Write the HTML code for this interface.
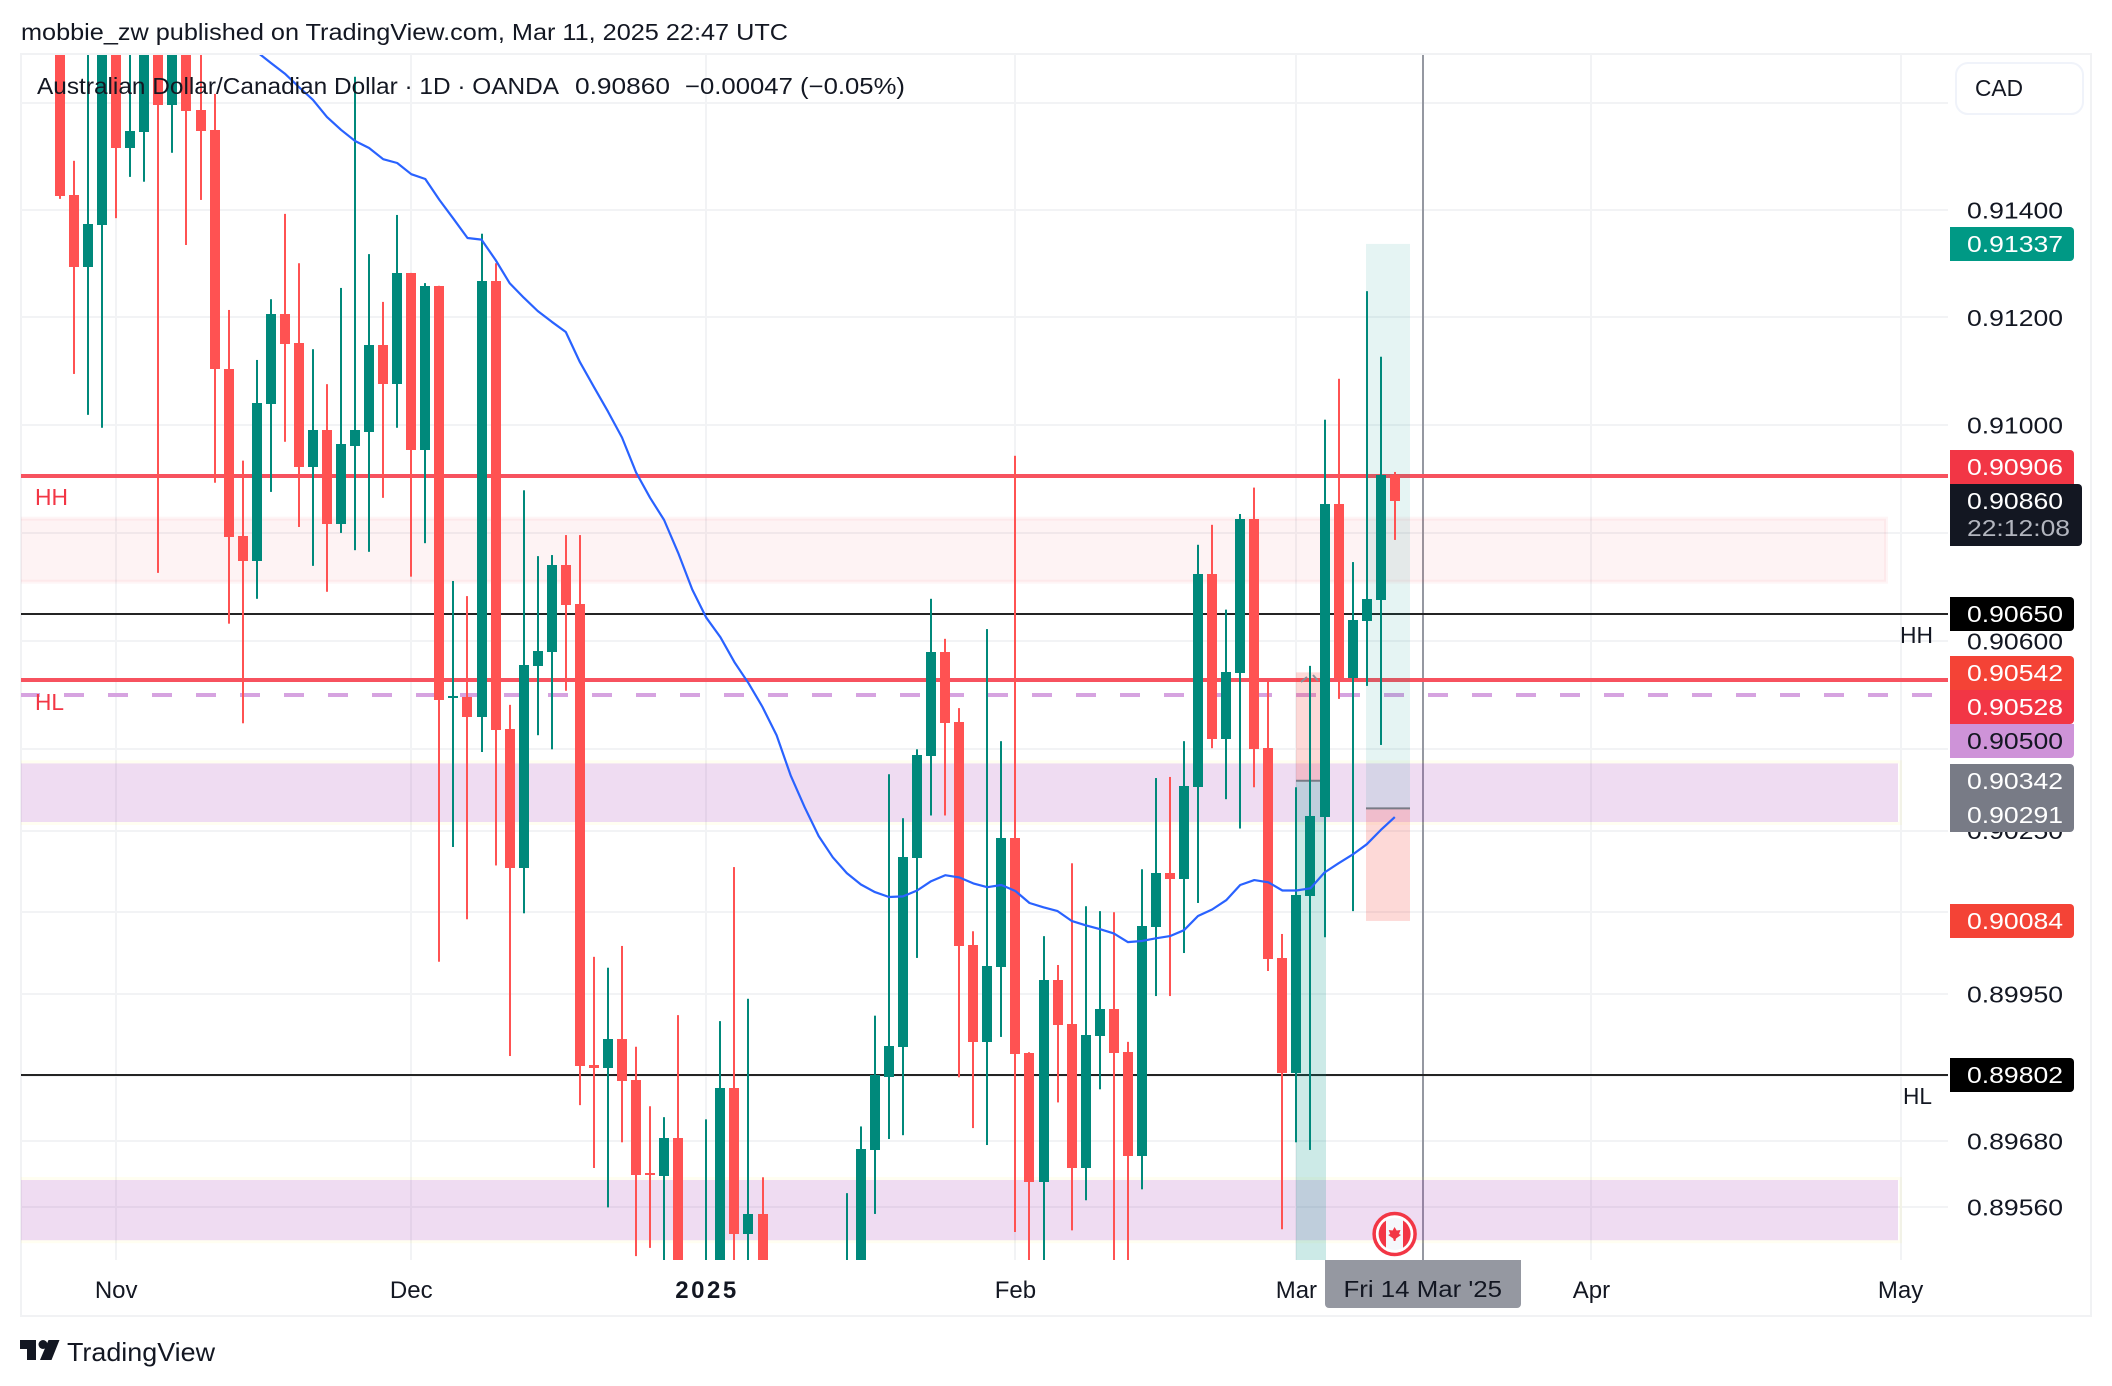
<!DOCTYPE html>
<html lang="en">
<head>
<meta charset="utf-8">
<title>AUD/CAD chart</title>
<style>
html,body{margin:0;padding:0;background:#fff;}
svg{display:block;}
text{font-family:"Liberation Sans",sans-serif;}
</style>
</head>
<body>
<svg id="chart" xmlns="http://www.w3.org/2000/svg" width="2112" height="1386" viewBox="0 0 2112 1386">
  <defs>
    <clipPath id="pane"><rect x="21" y="55" width="1927" height="1205"/></clipPath>
    <clipPath id="flag"><circle cx="1394.6" cy="1234" r="16"/></clipPath>
  </defs>
  <rect x="0" y="0" width="2112" height="1386" fill="#ffffff"/>
  <rect x="21" y="54" width="2070" height="1262" fill="none" stroke="#f1f2f4" stroke-width="2"/>
  <g id="grid-layer"></g>
  <g id="plot-layer" clip-path="url(#pane)"></g>

  <text x="21" y="40" font-size="23" fill="#131722" textLength="767" lengthAdjust="spacingAndGlyphs">mobbie_zw published on TradingView.com, Mar 11, 2025 22:47 UTC</text>
  <g>
    <text x="37" y="94" font-size="23" fill="#131722" textLength="522" lengthAdjust="spacingAndGlyphs">Australian Dollar/Canadian Dollar · 1D · OANDA</text>
    <text x="575" y="94" font-size="23" fill="#131722" textLength="95" lengthAdjust="spacingAndGlyphs">0.90860</text>
    <text x="685" y="94" font-size="23" fill="#131722" textLength="220" lengthAdjust="spacingAndGlyphs">−0.00047 (−0.05%)</text>
  </g>
  <text x="35" y="505" font-size="23" fill="#f23645" textLength="33" lengthAdjust="spacingAndGlyphs">HH</text>
  <text x="35" y="710" font-size="23" fill="#f23645" textLength="29" lengthAdjust="spacingAndGlyphs">HL</text>
  <text x="1900" y="643" font-size="23" fill="#131722" textLength="33" lengthAdjust="spacingAndGlyphs">HH</text>
  <text x="1903" y="1104" font-size="23" fill="#131722" textLength="29" lengthAdjust="spacingAndGlyphs">HL</text>

  <g>
    <circle cx="1394.6" cy="1234" r="20.5" fill="#ffffff" stroke="#f23645" stroke-width="3.5"/>
    <circle cx="1394.6" cy="1234" r="16" fill="#f5f7fb"/>
    <g clip-path="url(#flag)">
      <rect x="1378" y="1216" width="8" height="36" fill="#f23645"/>
      <rect x="1403" y="1216" width="8" height="36" fill="#f23645"/>
    </g>
    <polygon points="1394.6,1227 1396.6,1230.5 1400.5,1230 1399,1234 1401,1235 1396,1238.5 1395.4,1241 1393.8,1241 1393.2,1238.5 1388.2,1235 1390.2,1234 1388.7,1230 1392.6,1230.5" fill="#f23645"/>
  </g>

  <g>
    <path d="M1325 1260H1521V1304a4 4 0 0 1-4 4H1329a4 4 0 0 1-4-4Z" fill="#9598a1"/>
    <text x="1343.5" y="1297" font-size="23" fill="#131722" textLength="158.5" lengthAdjust="spacingAndGlyphs">Fri 14 Mar '25</text>
  </g>
  <g id="axis-text-layer"></g>

  <g>
    <path d="M1950 227H2070a4 4 0 0 1 4 4V257a4 4 0 0 1-4 4H1950Z" fill="#009985"/>
    <text x="1967" y="252" font-size="23" fill="#ffffff" textLength="96" lengthAdjust="spacingAndGlyphs">0.91337</text>
    <path d="M1950 450H2070a4 4 0 0 1 4 4V484H1950Z" fill="#f23645"/>
    <text x="1967" y="475" font-size="23" fill="#ffffff" textLength="96" lengthAdjust="spacingAndGlyphs">0.90906</text>
    <path d="M1950 484H2078a4 4 0 0 1 4 4V542a4 4 0 0 1-4 4H1950Z" fill="#131722"/>
    <text x="1967" y="509" font-size="23" fill="#ffffff" textLength="96" lengthAdjust="spacingAndGlyphs">0.90860</text>
    <text x="1967" y="536" font-size="23" fill="#b2b5be" textLength="103" lengthAdjust="spacingAndGlyphs">22:12:08</text>
    <path d="M1950 597H2070a4 4 0 0 1 4 4V627a4 4 0 0 1-4 4H1950Z" fill="#000000"/>
    <text x="1967" y="622" font-size="23" fill="#ffffff" textLength="96" lengthAdjust="spacingAndGlyphs">0.90650</text>
    <path d="M1950 656H2070a4 4 0 0 1 4 4V690H1950Z" fill="#f44336"/>
    <text x="1967" y="681" font-size="23" fill="#ffffff" textLength="96" lengthAdjust="spacingAndGlyphs">0.90542</text>
    <path d="M1950 690H2074V720a4 4 0 0 1-4 4H1950Z" fill="#f23645"/>
    <text x="1967" y="715" font-size="23" fill="#ffffff" textLength="96" lengthAdjust="spacingAndGlyphs">0.90528</text>
    <path d="M1950 724H2074V754a4 4 0 0 1-4 4H1950Z" fill="#ce93d8"/>
    <text x="1967" y="749" font-size="23" fill="#131722" textLength="96" lengthAdjust="spacingAndGlyphs">0.90500</text>
    <path d="M1950 764H2070a4 4 0 0 1 4 4V798H1950Z" fill="#787b86"/>
    <text x="1967" y="789" font-size="23" fill="#ffffff" textLength="96" lengthAdjust="spacingAndGlyphs">0.90342</text>
    <path d="M1950 798H2074V828a4 4 0 0 1-4 4H1950Z" fill="#787b86"/>
    <text x="1967" y="823" font-size="23" fill="#ffffff" textLength="96" lengthAdjust="spacingAndGlyphs">0.90291</text>
    <path d="M1950 904H2070a4 4 0 0 1 4 4V934a4 4 0 0 1-4 4H1950Z" fill="#f44336"/>
    <text x="1967" y="929" font-size="23" fill="#ffffff" textLength="96" lengthAdjust="spacingAndGlyphs">0.90084</text>
    <path d="M1950 1058H2070a4 4 0 0 1 4 4V1088a4 4 0 0 1-4 4H1950Z" fill="#000000"/>
    <text x="1967" y="1083" font-size="23" fill="#ffffff" textLength="96" lengthAdjust="spacingAndGlyphs">0.89802</text>
  </g>

  <g>
    <rect x="1956" y="63" width="127" height="51" rx="12" fill="#ffffff" stroke="#f0f3fa" stroke-width="2"/>
    <text x="1975" y="96" font-size="23" fill="#131722" textLength="48" lengthAdjust="spacingAndGlyphs">CAD</text>
  </g>

  <g>
    <path d="M20 1340H36V1360H27V1349H20Z" fill="#131722"/>
    <circle cx="43" cy="1344.5" r="4.5" fill="#131722"/>
    <path d="M48.5 1340H59.5L51.5 1360H40Z" fill="#131722"/>
    <text x="67" y="1361" font-size="26" fill="#131722" textLength="148" lengthAdjust="spacingAndGlyphs">TradingView</text>
  </g>
</svg>
<script>
// Daily AUD/CAD candles (bar 0 is the first visible bar; off-pane values are estimates)
const opens = [0.91737,0.91428,0.91294,0.91372,0.91737,0.91516,0.91546,0.91737,0.91597,0.91737,0.91587,0.91550,0.91104,0.90794,0.90748,0.91040,0.91206,0.91152,0.90923,0.90991,0.90817,0.90962,0.90988,0.91149,0.91076,0.91283,0.90954,0.91259,0.90495,0.90497,0.90460,0.91268,0.90437,0.90181,0.90554,0.90580,0.90741,0.90669,0.89819,0.89814,0.89867,0.89792,0.89621,0.89616,0.89685,0.89426,0.89400,0.89430,0.89777,0.89510,0.89547,0.89420,0.89400,0.89420,0.89395,0.89410,0.89400,0.89430,0.89664,0.89797,0.89853,0.90199,0.90387,0.90580,0.90450,0.90040,0.89862,0.90000,0.90236,0.89841,0.89605,0.89976,0.89895,0.89631,0.89873,0.89922,0.89843,0.89653,0.90073,0.90172,0.90161,0.90330,0.90724,0.90419,0.90541,0.90826,0.90402,0.90016,0.89805,0.90129,0.90275,0.90854,0.90532,0.90637,0.90676,0.90908];
const highs = [0.91756,0.91492,0.91756,0.91756,0.91756,0.91756,0.91756,0.91756,0.91756,0.91756,0.91756,0.91617,0.91214,0.90934,0.91121,0.91234,0.91393,0.91301,0.91141,0.91076,0.91255,0.91649,0.91318,0.91229,0.91391,0.91283,0.91264,0.91259,0.90711,0.90683,0.91356,0.91301,0.90482,0.90879,0.90757,0.90759,0.90796,0.90796,0.90018,0.89998,0.90038,0.89853,0.89744,0.89724,0.89911,0.89445,0.89720,0.89900,0.90183,0.89941,0.89614,0.89440,0.89435,0.89440,0.89430,0.89440,0.89585,0.89707,0.89910,0.90354,0.90273,0.90400,0.90678,0.90604,0.90476,0.90065,0.90622,0.90415,0.90943,0.89843,0.90056,0.90003,0.90190,0.90111,0.90102,0.90100,0.89862,0.90179,0.90347,0.90349,0.90415,0.90778,0.90815,0.90658,0.90835,0.90884,0.90526,0.90060,0.90330,0.90554,0.91010,0.91086,0.90746,0.91249,0.91127,0.90913];
const lows = [0.91421,0.91095,0.91019,0.90995,0.91385,0.91462,0.91453,0.90726,0.91507,0.91335,0.91419,0.90893,0.90632,0.90448,0.90678,0.90876,0.90969,0.90811,0.90739,0.90691,0.90800,0.90768,0.90765,0.90865,0.90995,0.90719,0.90781,0.90009,0.90220,0.90087,0.90395,0.90186,0.89836,0.90098,0.90426,0.90400,0.90508,0.89746,0.89631,0.89559,0.89678,0.89470,0.89485,0.89408,0.89408,0.89390,0.89390,0.89400,0.89408,0.89408,0.89390,0.89380,0.89370,0.89380,0.89360,0.89370,0.89380,0.89400,0.89547,0.89684,0.89691,0.90016,0.90278,0.90278,0.89797,0.89704,0.89673,0.89871,0.89514,0.89400,0.89400,0.89751,0.89517,0.89572,0.89775,0.89400,0.89400,0.89592,0.89946,0.89946,0.90025,0.90117,0.90402,0.90308,0.90254,0.90330,0.89992,0.89519,0.89678,0.89664,0.90054,0.90493,0.90102,0.90517,0.90408,0.90787];
const closes = [0.91426,0.91294,0.91374,0.91737,0.91516,0.91548,0.91737,0.91597,0.91737,0.91585,0.91548,0.91104,0.90793,0.90748,0.91041,0.91206,0.91151,0.90923,0.90991,0.90817,0.90964,0.90990,0.91149,0.91076,0.91283,0.90954,0.91259,0.90491,0.90498,0.90460,0.91268,0.90436,0.90181,0.90556,0.90582,0.90741,0.90667,0.89818,0.89814,0.89867,0.89790,0.89618,0.89618,0.89685,0.89426,0.89410,0.89440,0.89777,0.89510,0.89547,0.89420,0.89400,0.89420,0.89395,0.89410,0.89400,0.89430,0.89665,0.89801,0.89854,0.90201,0.90389,0.90580,0.90448,0.90038,0.89862,0.90001,0.90236,0.89840,0.89605,0.89976,0.89893,0.89631,0.89875,0.89922,0.89841,0.89653,0.90074,0.90172,0.90161,0.90332,0.90724,0.90419,0.90543,0.90826,0.90400,0.90014,0.89805,0.90131,0.90277,0.90854,0.90532,0.90639,0.90678,0.90908,0.90860];

// Moving average, starts at maStartBar
const maStartBar = 14;
const maValues = [0.91696,0.91675,0.91655,0.91630,0.91606,0.91574,0.91550,0.91529,0.91516,0.91495,0.91488,0.91467,0.91458,0.91419,0.91384,0.91348,0.91345,0.91307,0.91264,0.91237,0.91212,0.91192,0.91173,0.91117,0.91071,0.91025,0.90977,0.90912,0.90865,0.90824,0.90763,0.90695,0.90643,0.90607,0.90561,0.90522,0.90478,0.90426,0.90352,0.90293,0.90240,0.90201,0.90172,0.90151,0.90137,0.90128,0.90129,0.90140,0.90157,0.90168,0.90164,0.90153,0.90146,0.90150,0.90139,0.90117,0.90109,0.90102,0.90084,0.90076,0.90069,0.90061,0.90045,0.90047,0.90052,0.90056,0.90067,0.90093,0.90105,0.90122,0.90150,0.90159,0.90155,0.90140,0.90140,0.90144,0.90173,0.90190,0.90206,0.90225,0.90251,0.90275];

// Axis ticks
const priceTicks = [0.914,0.912,0.910,0.906,0.9025,0.8995,0.8968,0.8956];
const priceTickLabels = ['0.91400','0.91200','0.91000','0.90600','0.90250','0.89950','0.89680','0.89560'];
const gridOnlyPrices = [0.916,0.908,0.904,0.901,0.898];
const monthTickBars = [4,25,46,68,88,109,131];
const monthTickLabels = ['Nov','Dec','2025','Feb','Mar','Apr','May'];

// Horizontal levels
const redLevels = [0.90906,0.90528];
const blackLevels = [0.90650,0.89802];
const dashedLevels = [0.90500];

// Zones [top price, bottom price]
const pinkZoneTop = 0.90830;
const pinkZoneBottom = 0.90706;
const purpleZoneTops = [0.90374,0.89609];
const purpleZoneBottoms = [0.90266,0.89499];

// Position tools
const toolStartBars = [87.95,92.95];
const toolEndBars = [90,96.1];
const toolEntries = [0.90342,0.90291];
const toolUppers = [0.90542,0.91337];
const toolLowers = [0.89400,0.90084];

const crosshairBar = 97;

const NS = 'http://www.w3.org/2000/svg';
const PANE_LEFT = 21, PANE_RIGHT = 1948, PANE_TOP = 54, PANE_BOTTOM = 1260;
function xScale(i){ return 60 + i * 14.05; }
function yScale(p){ return 103 + (Math.log(0.916) - Math.log(p)) * 49010; }
function make(tag, parent){
  const el = document.createElementNS(NS, tag);
  parent.appendChild(el);
  return el;
}
function setAll(el, props){
  for (const k in props) el.setAttribute(k, props[k]);
}
const gridLayer = document.getElementById('grid-layer');
const plot = document.getElementById('plot-layer');
const axisText = document.getElementById('axis-text-layer');

// grid
priceTicks.concat(gridOnlyPrices).forEach(function(p){
  const line = make('line', gridLayer);
  
  
  const y = Math.round(yScale(p));
  setAll(line, {x1: PANE_LEFT, x2: PANE_RIGHT, y1: y, y2: y, stroke: '#f2f3f5', 'stroke-width': 2});
});
monthTickBars.forEach(function(b){
  const line = make('line', gridLayer);
  
  
  const x = Math.round(xScale(b));
  setAll(line, {x1: x, x2: x, y1: PANE_TOP, y2: PANE_BOTTOM, stroke: '#f2f3f5', 'stroke-width': 2});
});

// crosshair (sits under zones and levels)
(function(){
  const line = make('line', plot);
  
  
  const x = Math.round(xScale(crosshairBar));
  setAll(line, {x1: x, x2: x, y1: PANE_TOP, y2: PANE_BOTTOM, stroke: '#9598a1', 'stroke-width': 2});
})();

// zones
(function(){
  const top = yScale(pinkZoneTop), bottom = yScale(pinkZoneBottom);
  const r = make('rect', plot);
  
  
  setAll(r, {x: 19, y: top + 2, width: 1867, height: bottom - top - 4, fill: 'rgba(242,54,69,0.06)', stroke: 'rgba(242,54,69,0.05)', 'stroke-width': 4});
})();
purpleZoneTops.forEach(function(t, k){
  const top = yScale(t), bottom = yScale(purpleZoneBottoms[k]);
  const border = make('rect', plot);
  
  
  setAll(border, {x: 19, y: top - 1.5, width: 1881.5, height: bottom - top + 3, fill: 'none', stroke: 'rgba(255,235,59,0.07)', 'stroke-width': 3});
  const fill = make('rect', plot);
  
  
  setAll(fill, {x: 19, y: top, width: 1879, height: bottom - top, fill: 'rgba(156,39,176,0.16)'});
});

// levels
dashedLevels.forEach(function(p){
  const line = make('line', plot);
  
  
  const y = Math.round(yScale(p));
  setAll(line, {x1: PANE_LEFT - 1, x2: PANE_RIGHT, y1: y, y2: y, stroke: '#d6a3e0', 'stroke-width': 4, 'stroke-dasharray': '20 24'});
});
blackLevels.forEach(function(p){
  const line = make('line', plot);
  
  
  const y = Math.round(yScale(p));
  setAll(line, {x1: PANE_LEFT, x2: PANE_RIGHT, y1: y, y2: y, stroke: '#242424', 'stroke-width': 2});
});
redLevels.forEach(function(p){
  const line = make('line', plot);
  
  
  const y = Math.round(yScale(p));
  setAll(line, {x1: PANE_LEFT, x2: PANE_RIGHT, y1: y, y2: y, stroke: '#f7525f', 'stroke-width': 4});
});

// position tools (tint the levels beneath them)
toolStartBars.forEach(function(s, k){
  const x0 = Math.round(xScale(s)), x1 = Math.round(xScale(toolEndBars[k])) + (k === 0 ? 1 : 0);
  const entry = yScale(toolEntries[k]), up = yScale(toolUppers[k]), low = yScale(toolLowers[k]);
  const upper = make('rect', plot);
  
  
  setAll(upper, {x: x0, y: up, width: x1 - x0, height: entry - up, fill: k === 0 ? 'rgba(244,67,54,0.2)' : 'rgba(0,150,136,0.1)'});
  const lower = make('rect', plot);
  
  
  setAll(lower, {x: x0, y: entry, width: x1 - x0, height: low - entry, fill: k === 0 ? 'rgba(0,150,136,0.2)' : 'rgba(244,67,54,0.2)'});
  const line = make('line', plot);
  
  
  setAll(line, {x1: x0, x2: x1, y1: entry, y2: entry, stroke: '#787b86', 'stroke-width': 2});
});
(function(){
  const mark = make('polyline', plot);
  
  
  setAll(mark, {points: '1301,682 1307,677', fill: 'none', stroke: '#8d8f99', 'stroke-width': 2});
  const mark2 = make('polyline', plot);
  
  
  setAll(mark2, {points: '1313,675 1318,681', fill: 'none', stroke: '#8d8f99', 'stroke-width': 2});
})();

// candles
for (let i = 0; i < opens.length; i++) {
  const up = closes[i] >= opens[i];
  const color = up ? '#00897b' : '#ff5252';
  const cx = Math.round(xScale(i));
  const candle = make('g', plot);
  
  
  const wick = make('rect', candle);
  
  
  const hi = yScale(highs[i]), lo = yScale(lows[i]);
  setAll(wick, {x: cx - 1, y: hi, width: 2, height: lo - hi, fill: color});
  const body = make('rect', candle);
  
  
  const t = Math.round(yScale(Math.max(opens[i], closes[i])));
  const b = Math.round(yScale(Math.min(opens[i], closes[i])));
  setAll(body, {x: cx - 5, y: t, width: 10, height: Math.max(2, b - t), fill: color});
}

// moving average
(function(){
  const ma = make('polyline', plot);
  
  
  const pts = maValues.map(function(v, k){
    return xScale(maStartBar + k).toFixed(1) + ',' + yScale(v).toFixed(1);
  }).join(' ');
  setAll(ma, {points: pts, fill: 'none', stroke: '#2962ff', 'stroke-width': 2.2, 'stroke-linejoin': 'round'});
})();

// axis labels
priceTicks.forEach(function(p, k){
  const t = make('text', axisText);
  
  
  setAll(t, {x: 1967, y: yScale(p) + 8.5, 'font-size': 23, fill: '#131722', textLength: 96, lengthAdjust: 'spacingAndGlyphs'});
  t.textContent = priceTickLabels[k];
});
monthTickBars.forEach(function(b, k){
  const t = make('text', axisText);
  
  
  const isYear = monthTickLabels[k] === '2025';
  const anchorX = isYear ? 707 : xScale(b);
  setAll(t, {x: anchorX, y: 1298, 'font-size': 24, fill: '#131722', 'text-anchor': 'middle'});
  if (isYear) {
    t.setAttribute('font-weight', 'bold');
    t.setAttribute('letter-spacing', '2.5');
  }
  t.textContent = monthTickLabels[k];
});
</script>
</body>
</html>
